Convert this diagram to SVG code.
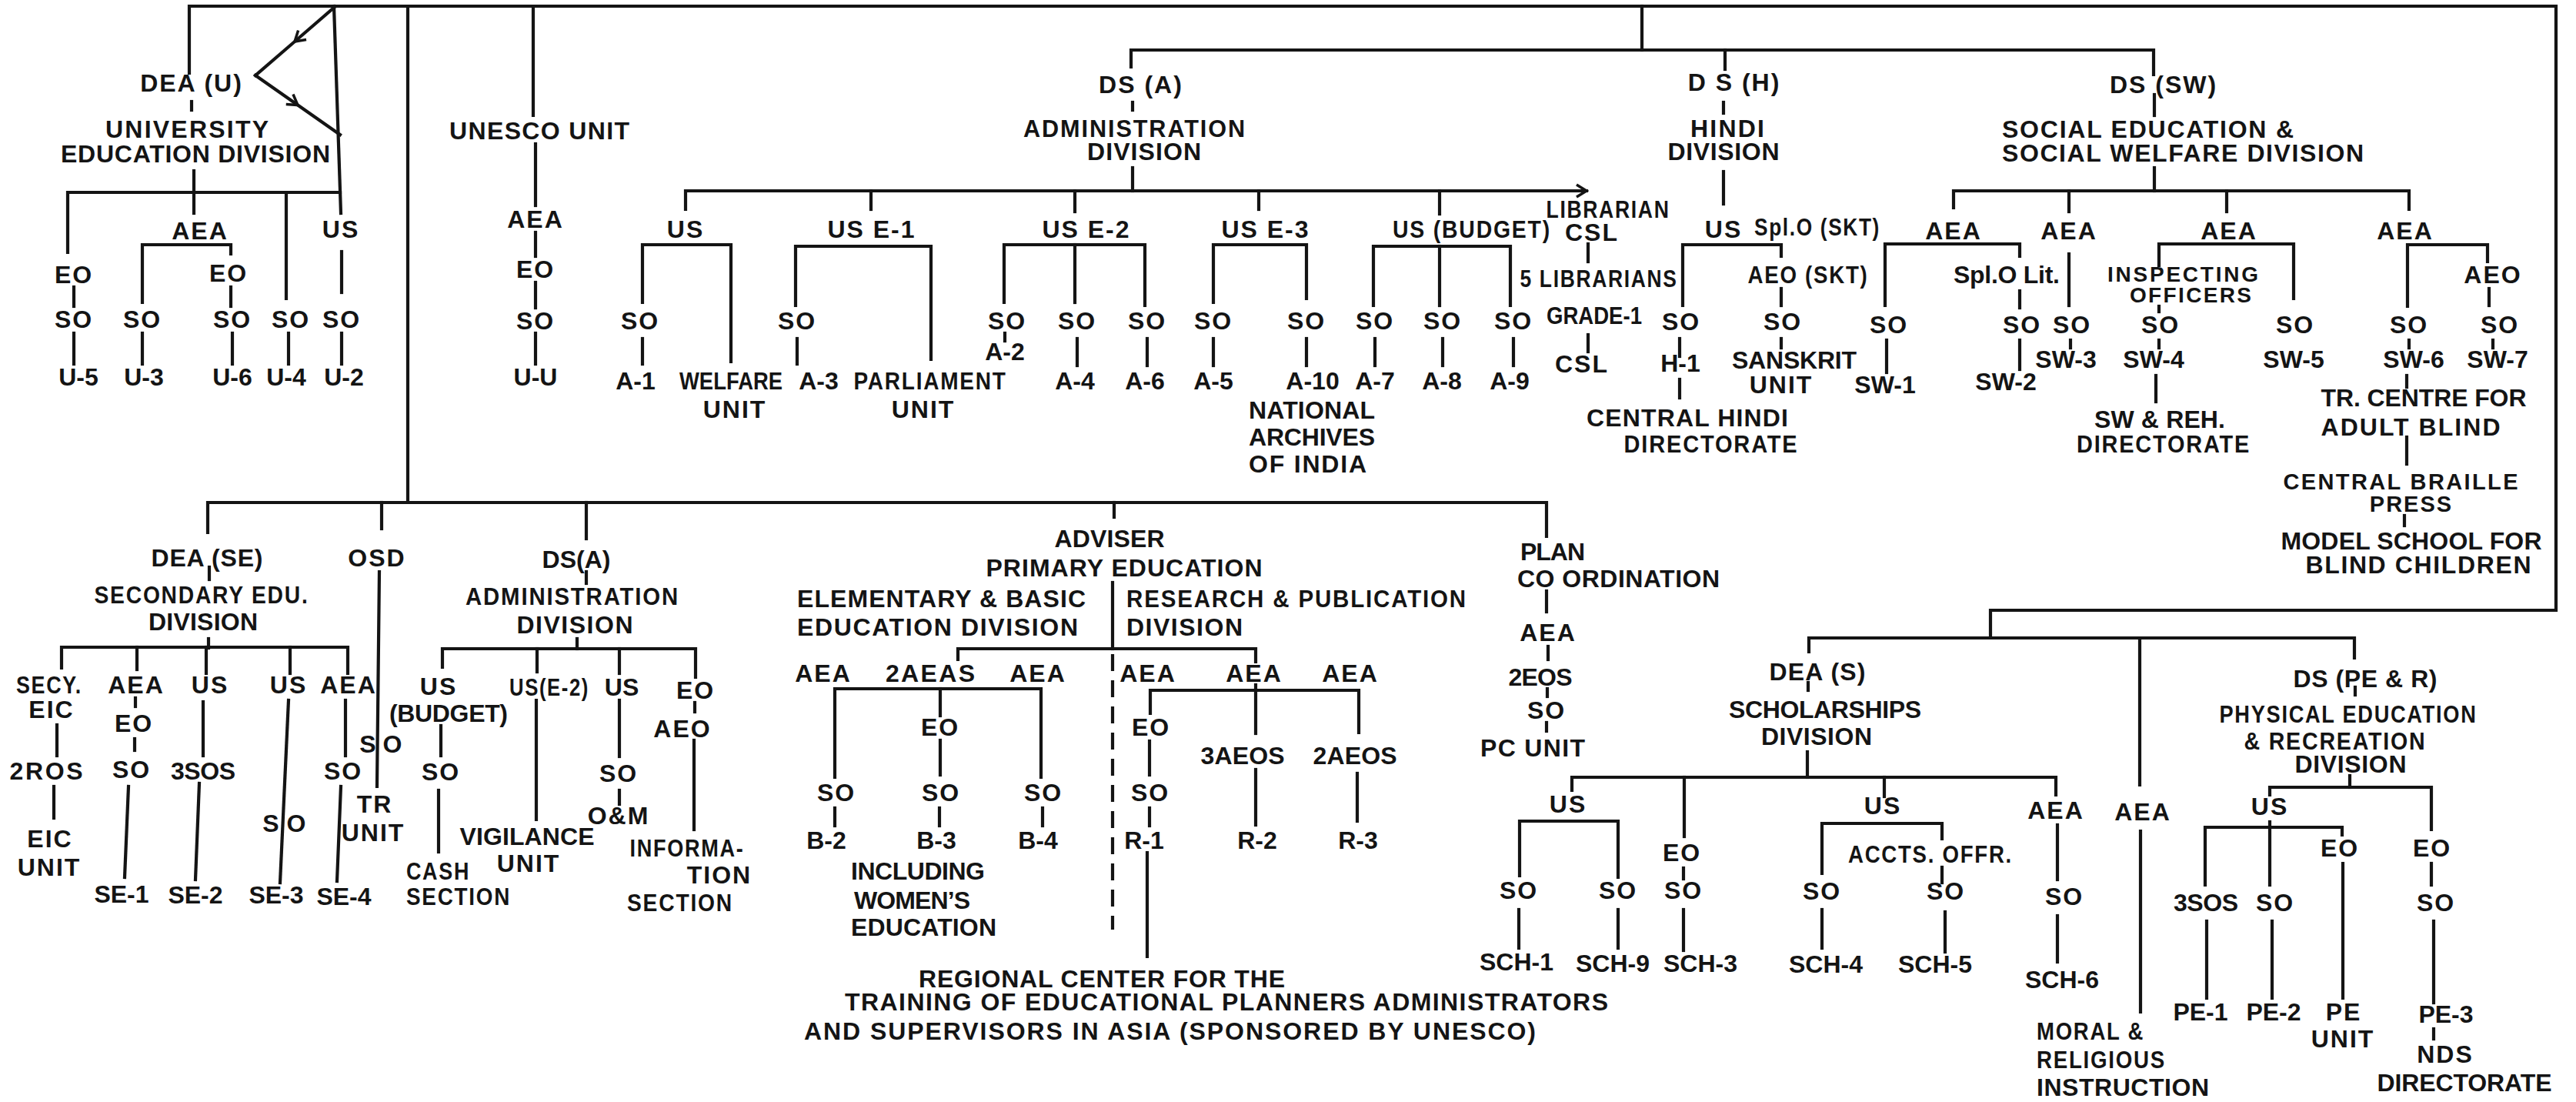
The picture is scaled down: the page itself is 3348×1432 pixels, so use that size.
<svg xmlns="http://www.w3.org/2000/svg" width="3348" height="1432" viewBox="0 0 3348 1432">
<style>
.c path{fill:none;stroke:#141414;stroke-width:4.2;stroke-linecap:square}
.c path.d{stroke-dasharray:22 12;stroke-linecap:butt}
text{font-family:"Liberation Sans",Arial,sans-serif;font-weight:bold;font-size:32px;fill:#141414;text-anchor:middle;letter-spacing:2px}
text.l{text-anchor:start}
text.k{letter-spacing:0}
text.sm{font-size:28px}
text.md{font-size:29px}
</style>
<defs>
<marker id="chev" markerUnits="userSpaceOnUse" markerWidth="30" markerHeight="30" viewBox="-15 -15 30 30" refX="0" refY="0" orient="auto">
<path d="M-13,-8 L0,0 L-13,8" fill="none" stroke="#141414" stroke-width="3.5"/>
</marker>
</defs>
<rect width="3348" height="1432" fill="#fff"/>
<g id="connectors" class="c">
<path d="M246,95 V8 H3322 V793 H2587 V829"/>
<path d="M530,8 V653"/>
<path d="M270,692 V653 H2010 V697"/>
<path d="M496,653 V687"/>
<path d="M762,653 V700"/>
<path d="M1448,653 V672"/>
<path d="M434,8 L443,277"/>
<path d="M434,10 L383,54 L332,98" marker-mid="url(#chev)"/>
<path d="M332,98 L387,136.5 L442,175" marker-mid="url(#chev)"/>
<path d="M249,132 V143"/>
<path d="M252,222 V277"/>
<path d="M88,328 V250 H442"/>
<path d="M372,250 V388"/>
<path d="M185,393 V318 H300 V330"/>
<path d="M96,373 V398"/>
<path d="M96,433 V473"/>
<path d="M185,433 V473"/>
<path d="M300,373 V398"/>
<path d="M302,433 V473"/>
<path d="M375,433 V473"/>
<path d="M444,327 V380"/>
<path d="M444,433 V473"/>
<path d="M693,8 V150"/>
<path d="M696,187 V267"/>
<path d="M696,302 V333"/>
<path d="M696,367 V400"/>
<path d="M696,433 V473"/>
<path d="M2134,8 V65"/>
<path d="M1470,87 V65 H2799 V97"/>
<path d="M2242,65 V90"/>
<path d="M1472,133 V143"/>
<path d="M1472,218 V248"/>
<path d="M891,272 V248 H2062" marker-end="url(#chev)"/>
<path d="M1132,248 V272"/>
<path d="M1397,248 V275"/>
<path d="M1636,248 V272"/>
<path d="M1871,248 V278"/>
<path d="M835,393 V318 H950 V470"/>
<path d="M835,440 V473"/>
<path d="M1034,397 V320 H1210 V467"/>
<path d="M1036,440 V473"/>
<path d="M1305,393 V318 H1488 V397"/>
<path d="M1397,318 V393"/>
<path d="M1306,433 V443"/>
<path d="M1400,440 V475"/>
<path d="M1491,440 V475"/>
<path d="M1577,393 V318 H1698 V388"/>
<path d="M1577,440 V475"/>
<path d="M1698,440 V475"/>
<path d="M1785,397 V320 H1963 V397"/>
<path d="M1871,320 V397"/>
<path d="M1787,440 V475"/>
<path d="M1875,440 V475"/>
<path d="M1967,440 V475"/>
<path d="M2064,317 V340"/>
<path d="M2064,435 V457"/>
<path d="M2240,133 V147"/>
<path d="M2240,223 V265"/>
<path d="M2187,397 V318 H2315 V333"/>
<path d="M2315,375 V397"/>
<path d="M2315,440 V452"/>
<path d="M2183,440 V463"/>
<path d="M2183,493 V517"/>
<path d="M2800,123 V150"/>
<path d="M2800,218 V248"/>
<path d="M2539,270 V248 H3131 V272"/>
<path d="M2689,248 V275"/>
<path d="M2894,248 V275"/>
<path d="M2450,397 V317 H2625 V333"/>
<path d="M2625,378 V400"/>
<path d="M2625,442 V480"/>
<path d="M2452,442 V484"/>
<path d="M2689,330 V397"/>
<path d="M2691,442 V452"/>
<path d="M2806,345 V317 H2981 V388"/>
<path d="M2806,398 V405"/>
<path d="M2806,442 V452"/>
<path d="M2802,488 V522"/>
<path d="M3129,398 V318 H3233 V340"/>
<path d="M3235,375 V397"/>
<path d="M3131,442 V452"/>
<path d="M3240,442 V452"/>
<path d="M3128,488 V503"/>
<path d="M3128,568 V603"/>
<path d="M3125,670 V683"/>
<path d="M272,737 V753"/>
<path d="M271,830 V842"/>
<path d="M80,868 V841 H452 V875"/>
<path d="M178,841 V870"/>
<path d="M268,841 V875"/>
<path d="M377,841 V875"/>
<path d="M176,907 V918"/>
<path d="M175,960 V975"/>
<path d="M167,1022 L162,1140"/>
<path d="M74,942 V982"/>
<path d="M70,1022 V1063"/>
<path d="M264,912 V982"/>
<path d="M259,1018 L254,1143"/>
<path d="M375,910 L364,1147"/>
<path d="M449,910 V982"/>
<path d="M443,1022 L438,1145"/>
<path d="M493,743 L490,1022"/>
<path d="M762,743 V758"/>
<path d="M750,830 V843"/>
<path d="M575,867 V843 H904 V880"/>
<path d="M698,843 V873"/>
<path d="M805,843 V875"/>
<path d="M573,943 V982"/>
<path d="M570,1027 V1107"/>
<path d="M697,910 V1065"/>
<path d="M805,910 V983"/>
<path d="M805,1027 V1045"/>
<path d="M903,913 V925"/>
<path d="M902,962 V1078"/>
<path d="M1446,757 V843"/>
<path d="M1245,857 V843 H1632 V860"/>
<path class="d" d="M1446,850 V1208"/>
<path d="M1085,1010 V895 H1353 V1010"/>
<path d="M1222,895 V930"/>
<path d="M1222,962 V1007"/>
<path d="M1085,1050 V1073"/>
<path d="M1221,1050 V1073"/>
<path d="M1355,1050 V1073"/>
<path d="M1495,927 V897 H1766 V952"/>
<path d="M1632,890 V953"/>
<path d="M1494,963 V1007"/>
<path d="M1494,1050 V1073"/>
<path d="M1491,1108 V1243"/>
<path d="M1632,1000 V1072"/>
<path d="M1764,1005 V1067"/>
<path d="M2010,768 V795"/>
<path d="M2012,840 V857"/>
<path d="M2011,895 V905"/>
<path d="M2010,939 V950"/>
<path d="M2351,847 V829 H3060 V855"/>
<path d="M2350,887 V897"/>
<path d="M2349,977 V1010"/>
<path d="M2043,1027 V1010 H2672 V1033"/>
<path d="M2189,1010 V1087"/>
<path d="M2449,1010 V1035"/>
<path d="M1975,1138 V1067 H2103 V1140"/>
<path d="M1974,1182 V1232"/>
<path d="M2103,1182 V1232"/>
<path d="M2188,1128 V1142"/>
<path d="M2188,1182 V1235"/>
<path d="M2368,1135 V1070 H2524 V1090"/>
<path d="M2524,1127 V1147"/>
<path d="M2368,1182 V1232"/>
<path d="M2528,1185 V1237"/>
<path d="M2674,1072 V1143"/>
<path d="M2674,1190 V1250"/>
<path d="M2781,829 V1020"/>
<path d="M2782,1080 V1315"/>
<path d="M3061,893 V903"/>
<path d="M3054,1008 V1023"/>
<path d="M2950,1033 V1023 H3160 V1078"/>
<path d="M2866,1150 V1075 H3044 V1085"/>
<path d="M2950,1068 V1150"/>
<path d="M2868,1197 V1297"/>
<path d="M2953,1197 V1297"/>
<path d="M3045,1122 V1297"/>
<path d="M3160,1122 V1150"/>
<path d="M3163,1197 V1303"/>
<path d="M3163,1337 V1350"/>
</g>
<g id="n-dea-u"><text x="249" y="119">DEA (U)</text></g>
<g id="n-univ-div"><text x="244" y="179" textLength="214">UNIVERSITY</text><text x="255" y="211" textLength="352">EDUCATION DIVISION</text></g>
<g id="n-u-aea"><text x="260" y="311">AEA</text></g>
<g id="n-u-us"><text x="443" y="309">US</text></g>
<g id="n-u-eo1"><text x="96" y="368">EO</text></g>
<g id="n-u-eo2"><text x="297" y="366">EO</text></g>
<g id="n-u-so1"><text x="96" y="426">SO</text></g>
<g id="n-u-so2"><text x="185" y="426">SO</text></g>
<g id="n-u-so3"><text x="302" y="426">SO</text></g>
<g id="n-u-so4"><text x="378" y="426">SO</text></g>
<g id="n-u-so5"><text x="444" y="426">SO</text></g>
<g id="n-u5"><text class="k" x="102" y="501">U-5</text></g>
<g id="n-u3"><text class="k" x="187" y="501">U-3</text></g>
<g id="n-u6"><text class="k" x="302" y="501">U-6</text></g>
<g id="n-u4"><text class="k" x="372" y="501">U-4</text></g>
<g id="n-u2"><text class="k" x="447" y="501">U-2</text></g>
<g id="n-unesco"><text x="702" y="181" textLength="236">UNESCO UNIT</text></g>
<g id="n-unesco-aea"><text x="696" y="296">AEA</text></g>
<g id="n-unesco-eo"><text x="696" y="361">EO</text></g>
<g id="n-unesco-so"><text x="696" y="428">SO</text></g>
<g id="n-uu"><text class="k" x="696" y="501">U-U</text></g>
<g id="n-dsa"><text x="1483" y="121">DS (A)</text><text x="1475" y="178" textLength="290" lengthAdjust="spacingAndGlyphs">ADMINISTRATION</text><text x="1488" y="208" textLength="150">DIVISION</text></g>
<g id="n-a-us"><text x="891" y="309">US</text></g>
<g id="n-a-use1"><text x="1133" y="309">US E-1</text></g>
<g id="n-a-use2"><text x="1412" y="309">US E-2</text></g>
<g id="n-a-use3"><text x="1645" y="309">US E-3</text></g>
<g id="n-a-usb"><text x="1913" y="309" textLength="206" lengthAdjust="spacingAndGlyphs">US (BUDGET)</text></g>
<g id="n-librarian"><text x="2090" y="283" textLength="161" lengthAdjust="spacingAndGlyphs">LIBRARIAN</text><text x="2069" y="313">CSL</text></g>
<g id="n-5lib"><text x="2078" y="373" textLength="205" lengthAdjust="spacingAndGlyphs">5 LIBRARIANS</text><text class="k" x="2072" y="421" textLength="124" lengthAdjust="spacingAndGlyphs">GRADE-1</text></g>
<g id="n-csl"><text x="2056" y="484">CSL</text></g>
<g id="n-a-so1"><text x="832" y="428">SO</text></g>
<g id="n-a-so2"><text x="1036" y="428">SO</text></g>
<g id="n-a-so3"><text x="1309" y="428">SO</text></g>
<g id="n-a-so4"><text x="1400" y="428">SO</text></g>
<g id="n-a-so5"><text x="1491" y="428">SO</text></g>
<g id="n-a-so6"><text x="1577" y="428">SO</text></g>
<g id="n-a-so7"><text x="1698" y="428">SO</text></g>
<g id="n-a-so8"><text x="1787" y="428">SO</text></g>
<g id="n-a-so9"><text x="1875" y="428">SO</text></g>
<g id="n-a-so10"><text x="1967" y="428">SO</text></g>
<g id="n-a2"><text class="k" x="1306" y="468">A-2</text></g>
<g id="n-a1"><text class="k" x="826" y="506">A-1</text></g>
<g id="n-a3"><text class="k" x="1064" y="506">A-3</text></g>
<g id="n-a4"><text class="k" x="1397" y="506">A-4</text></g>
<g id="n-a6"><text class="k" x="1488" y="506">A-6</text></g>
<g id="n-a5"><text class="k" x="1577" y="506">A-5</text></g>
<g id="n-a10"><text class="k" x="1706" y="506">A-10</text></g>
<g id="n-a7"><text class="k" x="1787" y="506">A-7</text></g>
<g id="n-a8"><text class="k" x="1874" y="506">A-8</text></g>
<g id="n-a9"><text class="k" x="1962" y="506">A-9</text></g>
<g id="n-welfare"><text class="k" x="950" y="506" textLength="134" lengthAdjust="spacingAndGlyphs">WELFARE</text><text x="955" y="543">UNIT</text></g>
<g id="n-parliament"><text x="1209" y="506" textLength="199" lengthAdjust="spacingAndGlyphs">PARLIAMENT</text><text x="1200" y="543">UNIT</text></g>
<g id="n-archives"><text class="l" x="1623" y="544" textLength="166">NATIONAL</text><text class="l" x="1623" y="579" textLength="166">ARCHIVES</text><text class="l" x="1623" y="614" textLength="155">OF INDIA</text></g>
<g id="n-dsh"><text x="2254" y="118">D S (H)</text><text x="2246" y="178" textLength="98">HINDI</text><text x="2241" y="208" textLength="147">DIVISION</text></g>
<g id="n-h-us"><text x="2240" y="309">US</text></g>
<g id="n-h-splo"><text x="2362" y="306" textLength="164" lengthAdjust="spacingAndGlyphs">Spl.O (SKT)</text></g>
<g id="n-h-aeo"><text x="2350" y="368" textLength="157" lengthAdjust="spacingAndGlyphs">AEO (SKT)</text></g>
<g id="n-h-so1"><text x="2185" y="429">SO</text></g>
<g id="n-h-so2"><text x="2317" y="429">SO</text></g>
<g id="n-h1"><text class="k" x="2184" y="483">H-1</text></g>
<g id="n-sanskrit"><text x="2333" y="479" textLength="164">SANSKRIT</text><text x="2315" y="511">UNIT</text></g>
<g id="n-chd"><text x="2194" y="554" textLength="264">CENTRAL HINDI</text><text x="2224" y="588" textLength="227" lengthAdjust="spacingAndGlyphs">DIRECTORATE</text></g>
<g id="n-dssw"><text x="2812" y="121">DS (SW)</text><text class="l" x="2602" y="179" textLength="381">SOCIAL EDUCATION &amp;</text><text class="l" x="2602" y="210" textLength="472">SOCIAL WELFARE DIVISION</text></g>
<g id="n-sw-aea1"><text x="2539" y="311">AEA</text></g>
<g id="n-sw-aea2"><text x="2689" y="311">AEA</text></g>
<g id="n-sw-aea3"><text x="2897" y="311">AEA</text></g>
<g id="n-sw-aea4"><text x="3126" y="311">AEA</text></g>
<g id="n-splolit"><text x="2609" y="368" textLength="140">Spl.O Lit.</text></g>
<g id="n-inspecting"><text class="sm" x="2838" y="366" textLength="198">INSPECTING</text><text class="sm" x="2848" y="393" textLength="160">OFFICERS</text></g>
<g id="n-sw-aeo"><text x="3240" y="368">AEO</text></g>
<g id="n-sw-so1"><text x="2455" y="433">SO</text></g>
<g id="n-sw-so2"><text x="2628" y="433">SO</text></g>
<g id="n-sw-so3"><text x="2693" y="433">SO</text></g>
<g id="n-sw-so4"><text x="2808" y="433">SO</text></g>
<g id="n-sw-so5"><text x="2983" y="433">SO</text></g>
<g id="n-sw-so6"><text x="3131" y="433">SO</text></g>
<g id="n-sw-so7"><text x="3249" y="433">SO</text></g>
<g id="n-sw1"><text class="k" x="2450" y="511">SW-1</text></g>
<g id="n-sw2"><text class="k" x="2607" y="507">SW-2</text></g>
<g id="n-sw3"><text class="k" x="2685" y="478">SW-3</text></g>
<g id="n-sw4"><text class="k" x="2799" y="478">SW-4</text></g>
<g id="n-sw5"><text class="k" x="2981" y="478">SW-5</text></g>
<g id="n-sw6"><text class="k" x="3137" y="478">SW-6</text></g>
<g id="n-sw7"><text class="k" x="3246" y="478">SW-7</text></g>
<g id="n-swreh"><text x="2808" y="556" textLength="172">SW &amp; REH.</text><text x="2812" y="588" textLength="226" lengthAdjust="spacingAndGlyphs">DIRECTORATE</text></g>
<g id="n-trcentre"><text x="3151" y="528" textLength="269">TR. CENTRE FOR</text><text x="3134" y="566" textLength="235">ADULT  BLIND</text></g>
<g id="n-braille"><text class="md" x="3121" y="636" textLength="307">CENTRAL  BRAILLE</text><text class="md" x="3134" y="665">PRESS</text></g>
<g id="n-model"><text x="3135" y="714" textLength="341">MODEL SCHOOL FOR</text><text x="3144" y="745" textLength="295">BLIND  CHILDREN</text></g>
<g id="n-deas"><text x="270" y="736" textLength="147">DEA (SE)</text><text x="262" y="784" textLength="279" lengthAdjust="spacingAndGlyphs">SECONDARY EDU.</text><text x="265" y="819" textLength="144">DIVISION</text></g>
<g id="n-osd"><text x="490" y="736">OSD</text></g>
<g id="n-dsa2"><text x="750" y="738" textLength="91">DS(A)</text><text x="744" y="786" textLength="278" lengthAdjust="spacingAndGlyphs">ADMINISTRATION</text><text x="748" y="823" textLength="153">DIVISION</text></g>
<g id="n-secy"><text x="64" y="901" textLength="86" lengthAdjust="spacingAndGlyphs">SECY.</text><text x="67" y="933">EIC</text></g>
<g id="n-2ros"><text x="61" y="1013" textLength="97">2ROS</text></g>
<g id="n-eicunit"><text x="65" y="1101">EIC</text><text x="64" y="1138">UNIT</text></g>
<g id="n-se-aea"><text x="177" y="901">AEA</text></g>
<g id="n-se-eo"><text x="174" y="951">EO</text></g>
<g id="n-se-so1"><text x="171" y="1011">SO</text></g>
<g id="n-se1"><text class="k" x="158" y="1173">SE-1</text></g>
<g id="n-se-us1"><text x="273" y="901">US</text></g>
<g id="n-3sos"><text x="265" y="1013" textLength="86">3SOS</text></g>
<g id="n-se2"><text class="k" x="254" y="1174">SE-2</text></g>
<g id="n-se-us2"><text x="375" y="901">US</text></g>
<g id="n-se-so3"><text x="353" y="1081">S</text><text x="386" y="1081">O</text></g>
<g id="n-se3"><text class="k" x="359" y="1174">SE-3</text></g>
<g id="n-se-aea2"><text x="453" y="901">AEA</text></g>
<g id="n-se-so4"><text x="446" y="1013">SO</text></g>
<g id="n-se4"><text class="k" x="447" y="1176">SE-4</text></g>
<g id="n-osd-so"><text x="479" y="978">S</text><text x="511" y="978">O</text></g>
<g id="n-trunit"><text x="487" y="1056">TR</text><text x="485" y="1093">UNIT</text></g>
<g id="n-a2-us1"><text x="570" y="903">US</text><text x="584" y="938" textLength="156">(BUDGET)</text></g>
<g id="n-a2-so1"><text x="573" y="1014">SO</text></g>
<g id="n-cash"><text class="l" x="528" y="1143" textLength="83" lengthAdjust="spacingAndGlyphs">CASH</text><text class="l" x="528" y="1176" textLength="136" lengthAdjust="spacingAndGlyphs">SECTION</text></g>
<g id="n-a2-use2"><text x="714" y="904" textLength="104" lengthAdjust="spacingAndGlyphs">US(E-2)</text></g>
<g id="n-vigilance"><text x="686" y="1098" textLength="177">VIGILANCE</text><text x="687" y="1133">UNIT</text></g>
<g id="n-a2-us3"><text class="k" x="808" y="904">US</text></g>
<g id="n-a2-so3"><text x="804" y="1016">SO</text></g>
<g id="n-om"><text x="804" y="1071">O&amp;M</text></g>
<g id="n-a2-eo"><text x="904" y="908">EO</text></g>
<g id="n-a2-aeo"><text x="887" y="958">AEO</text></g>
<g id="n-info"><text x="893" y="1113" textLength="149" lengthAdjust="spacingAndGlyphs">INFORMA-</text><text x="935" y="1148">TION</text><text x="884" y="1184" textLength="138" lengthAdjust="spacingAndGlyphs">SECTION</text></g>
<g id="n-adviser"><text x="1443" y="711" textLength="145">ADVISER</text><text x="1462" y="749" textLength="361">PRIMARY EDUCATION</text></g>
<g id="n-elem"><text class="l" x="1036" y="789" textLength="377">ELEMENTARY &amp; BASIC</text><text class="l" x="1036" y="826" textLength="367">EDUCATION DIVISION</text></g>
<g id="n-research"><text class="l" x="1464" y="789" textLength="443" lengthAdjust="spacingAndGlyphs">RESEARCH &amp; PUBLICATION</text><text class="l" x="1464" y="826" textLength="153">DIVISION</text></g>
<g id="n-p-aea1"><text x="1070" y="886">AEA</text></g>
<g id="n-p-2aeas"><text x="1210" y="886" textLength="118">2AEAS</text></g>
<g id="n-p-aea2"><text x="1349" y="886">AEA</text></g>
<g id="n-r-aea1"><text x="1492" y="886">AEA</text></g>
<g id="n-r-aea2"><text x="1630" y="886">AEA</text></g>
<g id="n-r-aea3"><text x="1755" y="886">AEA</text></g>
<g id="n-p-eo"><text x="1222" y="956">EO</text></g>
<g id="n-r-eo"><text x="1496" y="956">EO</text></g>
<g id="n-p-so1"><text x="1087" y="1041">SO</text></g>
<g id="n-p-so2"><text x="1223" y="1041">SO</text></g>
<g id="n-p-so3"><text x="1356" y="1041">SO</text></g>
<g id="n-r-so1"><text x="1495" y="1041">SO</text></g>
<g id="n-3aeos"><text x="1616" y="993" textLength="111">3AEOS</text></g>
<g id="n-2aeos"><text x="1762" y="993" textLength="111">2AEOS</text></g>
<g id="n-b2"><text class="k" x="1074" y="1103">B-2</text></g>
<g id="n-b3"><text class="k" x="1217" y="1103">B-3</text></g>
<g id="n-b4"><text class="k" x="1349" y="1103">B-4</text></g>
<g id="n-r1"><text class="k" x="1487" y="1103">R-1</text></g>
<g id="n-r2"><text class="k" x="1634" y="1103">R-2</text></g>
<g id="n-r3"><text class="k" x="1765" y="1103">R-3</text></g>
<g id="n-women"><text class="l" x="1106" y="1143" textLength="176">INCLUDING</text><text class="l" x="1110" y="1181" textLength="153">WOMEN’S</text><text class="l" x="1106" y="1216" textLength="191">EDUCATION</text></g>
<g id="n-regional"><text x="1433" y="1283" textLength="478">REGIONAL  CENTER  FOR  THE</text><text class="l" x="1098" y="1313" textLength="994">TRAINING OF EDUCATIONAL PLANNERS ADMINISTRATORS</text><text class="l" x="1045" y="1351" textLength="953">AND SUPERVISORS IN ASIA (SPONSORED BY UNESCO)</text></g>
<g id="n-plan"><text class="l" x="1976" y="728" textLength="86">PLAN</text><text class="l" x="1972" y="763" textLength="265">CO ORDINATION</text></g>
<g id="n-plan-aea"><text x="2012" y="833">AEA</text></g>
<g id="n-2eos"><text x="2003" y="891" textLength="85">2EOS</text></g>
<g id="n-plan-so"><text x="2010" y="934">SO</text></g>
<g id="n-pcunit"><text x="1993" y="983" textLength="138">PC UNIT</text></g>
<g id="n-deasch"><text x="2363" y="884" textLength="127">DEA (S)</text><text x="2373" y="933" textLength="252">SCHOLARSHIPS</text><text x="2362" y="968" textLength="146">DIVISION</text></g>
<g id="n-s-us1"><text x="2038" y="1056">US</text></g>
<g id="n-s-us2"><text x="2447" y="1058">US</text></g>
<g id="n-s-so1"><text x="1974" y="1168">SO</text></g>
<g id="n-s-so2"><text x="2103" y="1168">SO</text></g>
<g id="n-s-eo"><text x="2186" y="1119">EO</text></g>
<g id="n-s-so3"><text x="2188" y="1168">SO</text></g>
<g id="n-sch1"><text class="k" x="1971" y="1261">SCH-1</text></g>
<g id="n-sch9"><text class="k" x="2096" y="1263">SCH-9</text></g>
<g id="n-sch3"><text class="k" x="2210" y="1263">SCH-3</text></g>
<g id="n-s-so4"><text x="2368" y="1169">SO</text></g>
<g id="n-accts"><text x="2509" y="1121" textLength="214" lengthAdjust="spacingAndGlyphs">ACCTS. OFFR.</text></g>
<g id="n-s-so5"><text x="2529" y="1169">SO</text></g>
<g id="n-sch4"><text class="k" x="2373" y="1264">SCH-4</text></g>
<g id="n-sch5"><text class="k" x="2515" y="1264">SCH-5</text></g>
<g id="n-s-aea"><text x="2672" y="1064">AEA</text></g>
<g id="n-s-so6"><text x="2683" y="1176">SO</text></g>
<g id="n-sch6"><text class="k" x="2680" y="1284">SCH-6</text></g>
<g id="n-m-aea"><text x="2785" y="1066">AEA</text></g>
<g id="n-moral"><text class="l" x="2647" y="1351" textLength="140" lengthAdjust="spacingAndGlyphs">MORAL &amp;</text><text class="l" x="2647" y="1388" textLength="168" lengthAdjust="spacingAndGlyphs">RELIGIOUS</text><text class="l" x="2647" y="1424" textLength="226">INSTRUCTION</text></g>
<g id="n-dspe"><text x="3075" y="893" textLength="189">DS (PE &amp; R)</text><text x="3052" y="939" textLength="335" lengthAdjust="spacingAndGlyphs">PHYSICAL EDUCATION</text><text x="3035" y="974" textLength="237" lengthAdjust="spacingAndGlyphs">&amp; RECREATION</text><text x="3056" y="1004" textLength="147">DIVISION</text></g>
<g id="n-pe-us"><text x="2950" y="1059">US</text></g>
<g id="n-pe-eo1"><text x="3041" y="1113">EO</text></g>
<g id="n-pe-eo2"><text x="3161" y="1113">EO</text></g>
<g id="n-pe-3sos"><text x="2868" y="1184" textLength="86">3SOS</text></g>
<g id="n-pe-so1"><text x="2957" y="1184">SO</text></g>
<g id="n-pe-so2"><text x="3166" y="1184">SO</text></g>
<g id="n-pe1"><text class="k" x="2860" y="1326">PE-1</text></g>
<g id="n-pe2"><text class="k" x="2955" y="1326">PE-2</text></g>
<g id="n-peunit"><text x="3046" y="1326">PE</text><text x="3045" y="1361">UNIT</text></g>
<g id="n-pe3"><text class="k" x="3179" y="1329">PE-3</text></g>
<g id="n-nds"><text x="3178" y="1381">NDS</text><text x="3204" y="1418" textLength="229">DIRECTORATE</text></g>
</svg>
